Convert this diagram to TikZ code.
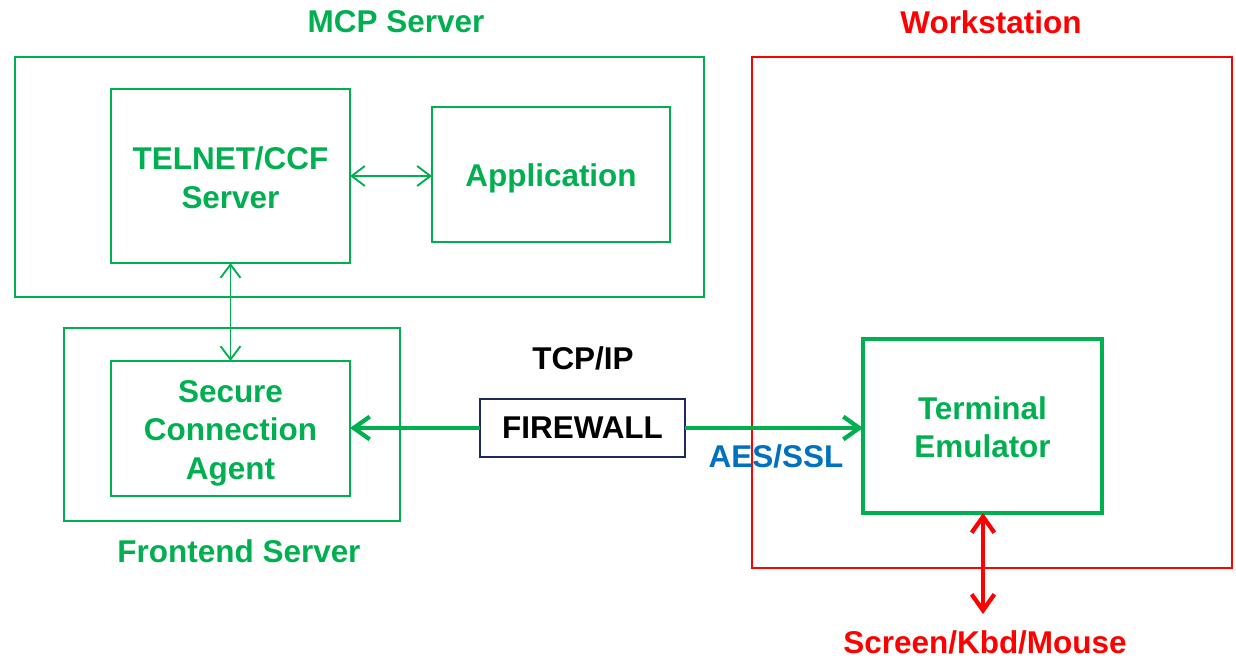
\documentclass[tikz,border=0pt]{standalone}
\usepackage{fontspec}
\setmainfont{Liberation Sans}
\usetikzlibrary{arrows.meta}
\definecolor{grn}{HTML}{00B050}
\definecolor{rd}{HTML}{FF0000}
\definecolor{bl}{HTML}{0070C0}
\definecolor{navy}{HTML}{1F2A5C}
\begin{document}
\begin{tikzpicture}[x=0.75pt,y=-0.75pt,
  every node/.style={font=\fontsize{23.6}{29}\selectfont\bfseries, inner sep=0pt, outer sep=0pt},
  every label/.style={text=grn, align=center},
  gbox/.style={draw=grn, line width=1.5pt},
  thinarr/.style={draw=grn, line width=1.4pt, {Straight Barb[length=10pt,width=15pt]}-{Straight Barb[length=10pt,width=15pt]}},
  thickarr/.style={line width=3.6pt, -{Straight Barb[length=12pt,width=17pt,line width=3.2pt]}},
]
\useasboundingbox (0,0) rectangle (1236,659);
% outer containers
\node[gbox, minimum width=516.75pt, minimum height=180pt] (mcp) at (359.5,177) {};
\node[gbox, minimum width=252pt, minimum height=144.75pt] (fe) at (232,424.5) {};
\node[draw=rd, line width=1.5pt, minimum width=360pt, minimum height=383.25pt] (ws) at (992,312.5) {};
% inner boxes
\node[gbox, minimum width=179.25pt, minimum height=130.5pt,
  label={[yshift=-1.5pt]center:TELNET/CCF\\Server}] (telnet) at (230.5,176) {};
\node[gbox, minimum width=178.5pt, minimum height=101.25pt,
  label={[yshift=-3pt]center:Application}] (app) at (551,174.5) {};
\node[gbox, minimum width=179.25pt, minimum height=101.25pt,
  label={[yshift=-3.5pt]center:Secure\\Connection\\Agent}] (sca) at (230.5,428.5) {};
\node[gbox, line width=2.3pt, minimum width=179.25pt, minimum height=130.5pt,
  label={[yshift=-1pt]center:Terminal\\Emulator}] (term) at (982.5,426) {};
\node[draw=navy, line width=1.2pt, text=black, minimum width=153.75pt, minimum height=43.5pt] (fw) at (582.5,428) {FIREWALL};
% labels
\node[text=grn] (lmcp) at (396,22) {MCP Server};
\node[text=grn] (lfe) at (239,551) {Frontend Server};
\node[text=rd] (lws) at (991,22) {Workstation};
\node[text=black] (ltcp) at (583,358) {TCP/IP};
\node[text=bl] (laes) at (776,456) {AES/SSL};
\node[text=rd] (lkbd) at (985,642) {Screen/Kbd/Mouse};
\coordinate (kbd) at (983,614);
% connectors
\draw[thinarr] (telnet.east) -- (telnet.east -| app.west);
\draw[thinarr] (telnet.south) -- (sca.north);
\draw[thickarr, draw=grn, color=grn] (fw.west) -- (fw.west -| sca.east);
\draw[thickarr, draw=grn, color=grn] (fw.east) -- (fw.east -| term.west);
\draw[line width=3.6pt, draw=rd, {Straight Barb[length=12pt,width=17pt,line width=3.2pt]}-{Straight Barb[length=12pt,width=17pt,line width=3.2pt]}] (term.south -| kbd) -- (kbd);
\end{tikzpicture}
\end{document}
